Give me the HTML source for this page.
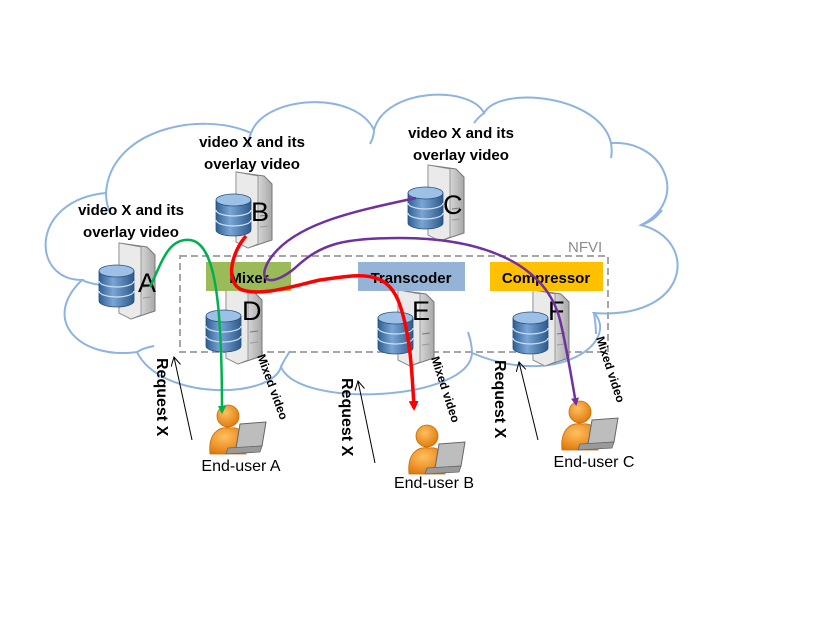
<!DOCTYPE html>
<html><head><meta charset="utf-8"><style>
html,body{margin:0;padding:0;background:#fff;}
svg{display:block;font-family:"Liberation Sans",sans-serif;}
</style></head><body>
<svg width="830" height="623" viewBox="0 0 830 623" xmlns="http://www.w3.org/2000/svg">
<defs>
<linearGradient id="tw" x1="0" x2="1"><stop offset="0" stop-color="#f4f4f4"/><stop offset="0.6" stop-color="#d6d6d6"/><stop offset="1" stop-color="#a8a8a8"/></linearGradient>
<linearGradient id="db" x1="0" x2="1"><stop offset="0" stop-color="#2e5f92"/><stop offset="0.4" stop-color="#7aa6d6"/><stop offset="1" stop-color="#2c5a8a"/></linearGradient>
<radialGradient id="og" cx="0.4" cy="0.35" r="0.7"><stop offset="0" stop-color="#ffc060"/><stop offset="1" stop-color="#e0780a"/></radialGradient>
<g id="srv">
<path d="M8,0 L36,4 L44,12 L44,68 L20,76 L8,70 Z" fill="url(#tw)" stroke="#777" stroke-width="1"/>
<path d="M8,0 L30,4 L30,72 L20,76 L8,70 Z" fill="#eaeaea" stroke="#888" stroke-width="0.8"/>
<line x1="32" y1="44" x2="40" y2="43" stroke="#777"/>
<line x1="32" y1="55" x2="40" y2="54" stroke="#999"/>
<path d="M-12,28 L-12,58 A17.5,6 0 0 0 23,58 L23,28 Z" fill="url(#db)" stroke="#2a4f7a" stroke-width="0.8"/>
<ellipse cx="5.5" cy="28" rx="17.5" ry="6" fill="#9cc0e6" stroke="#2a4f7a" stroke-width="0.8"/>
<path d="M-12,38 A17.5,6 0 0 0 23,38 M-12,48 A17.5,6 0 0 0 23,48" fill="none" stroke="#cfe0f2" stroke-width="1.2"/>
</g>
<g id="usr">
<path d="M-22,30 C-24,10 -14,2 -2,4 C10,2 16,12 14,30 Z" fill="url(#og)" stroke="#c86a00" stroke-width="0.8"/>
<circle cx="-4" cy="-8" r="11" fill="url(#og)" stroke="#c86a00" stroke-width="0.8"/>
<path d="M8,0 L34,-2 L30,22 L4,24 Z" fill="#bdbdbd" stroke="#666" stroke-width="1"/>
<path d="M-4,24 L30,22 L28,28 L-6,30 Z" fill="#9a9a9a" stroke="#666" stroke-width="0.8"/>
</g>
<marker id="ag" markerWidth="8" markerHeight="8" refX="6" refY="4" orient="auto" markerUnits="userSpaceOnUse"><path d="M0,0 L8,4 L0,8 Z" fill="#00b050"/></marker>
<marker id="ar" markerWidth="10" markerHeight="10" refX="7" refY="5" orient="auto" markerUnits="userSpaceOnUse"><path d="M0,0 L10,5 L0,10 Z" fill="#ff0000"/></marker>
<marker id="ap" markerWidth="8" markerHeight="8" refX="6" refY="4" orient="auto" markerUnits="userSpaceOnUse"><path d="M0,0 L8,4 L0,8 Z" fill="#7030a0"/></marker>
<marker id="ak" markerWidth="10" markerHeight="10" refX="9" refY="5" orient="auto" markerUnits="userSpaceOnUse"><path d="M0,0 L9,5 L0,10" fill="none" stroke="#000" stroke-width="1"/></marker>
</defs>

<!-- cloud -->
<path d="M106,193 C110,130 200,110 251,133 C265,95 355,90 374,130 C385,88 470,85 484,113 C500,85 600,95 611,143 C665,140 690,200 641,225 C700,240 690,320 594,313 C620,340 560,390 472,353 C470,400 300,410 281,367 C270,400 160,400 137,352 C80,360 40,320 82,280 C30,280 30,200 106,193 Z" fill="none" stroke="#8db3e2" stroke-width="2"/>
<path d="M106,193 C106,200 107,206 110,212 M251,133 C249,138 248,143 248,147 M374,130 C374,136 372,140 370,144 M484,113 C480,116 477,119 474,123 M611,143 C612,149 612,153 611,158 M641,225 C650,222 656,218 662,210 M594,313 C595,320 596,326 596,334 M472,353 C472,345 470,338 468,332 M281,367 C284,360 287,356 290,351 M137,352 C142,349 148,347 154,346 M82,280 C88,283 94,284 100,285" fill="none" stroke="#8db3e2" stroke-width="2"/>

<!-- NFVI -->
<rect x="180" y="256" width="428" height="96" fill="none" stroke="#a6a6a6" stroke-width="2" stroke-dasharray="7,4"/>
<text x="568" y="252" font-size="15" fill="#8c8c8c">NFVI</text>

<!-- servers -->
<use href="#srv" x="111" y="243"/>
<use href="#srv" x="228" y="172"/>
<use href="#srv" x="420" y="165"/>
<use href="#srv" x="218" y="288"/>
<use href="#srv" x="390" y="290"/>
<use href="#srv" x="525" y="290"/>
<g font-size="27" fill="#000">
<text x="138" y="292">A</text>
<text x="251" y="221">B</text>
<text x="443" y="214">C</text>
<text x="242" y="320">D</text>
<text x="412" y="320">E</text>
<text x="548" y="320">F</text>
</g>

<!-- function boxes -->
<rect x="206" y="262" width="85" height="29" fill="#9bbb59"/>
<rect x="358" y="262" width="107" height="29" fill="#95b3d7"/>
<rect x="490" y="262" width="113" height="29" fill="#ffc000"/>
<g font-size="15" font-weight="bold" text-anchor="middle">
<text x="249" y="283">Mixer</text>
<text x="411" y="283">Transcoder</text>
<text x="546" y="283">Compressor</text>
</g>

<!-- server labels -->
<g font-size="15" font-weight="bold" text-anchor="middle">
<text x="131" y="215">video X and its</text><text x="131" y="237">overlay video</text>
<text x="252" y="147">video X and its</text><text x="252" y="169">overlay video</text>
<text x="461" y="138">video X and its</text><text x="461" y="160">overlay video</text>
</g>

<!-- users -->
<use href="#usr" x="232" y="424"/>
<use href="#usr" x="431" y="444"/>
<use href="#usr" x="584" y="420"/>
<g font-size="16" text-anchor="middle">
<text x="241" y="471">End-user A</text>
<text x="434" y="488">End-user B</text>
<text x="594" y="467">End-user C</text>
</g>

<!-- requests -->
<g font-size="16" font-weight="bold">
<text transform="translate(157,358) rotate(90)">Request X</text>
<text transform="translate(342,378) rotate(90)">Request X</text>
<text transform="translate(495,360) rotate(90)">Request X</text>
</g>
<g stroke="#000" stroke-width="1" marker-end="url(#ak)">
<line x1="192" y1="440" x2="174" y2="357"/>
<line x1="375" y1="463" x2="358" y2="381"/>
<line x1="538" y1="440" x2="519" y2="362"/>
</g>
<g font-size="12" font-weight="bold">
<text transform="translate(257,356) rotate(70)">Mixed video</text>
<text transform="translate(431,358) rotate(72)">Mixed video</text>
<text transform="translate(596,338) rotate(72)">Mixed video</text>
</g>

<!-- flows -->
<path d="M150,287 C162,262 168,238 190,240 C215,243 222,300 222,412" fill="none" stroke="#00b050" stroke-width="2.5" marker-end="url(#ag)"/>
<path d="M416,198 C350,212 290,225 268,262 C256,285 275,285 295,268 C320,245 340,238 400,238 C480,238 545,262 560,320 C566,345 572,380 576,404" fill="none" stroke="#7030a0" stroke-width="2.5" marker-end="url(#ap)"/>
<path d="M246,236 C232,252 225,280 240,289 C260,298 300,284 320,280 C360,274 385,270 398,300 C410,330 412,370 414,408" fill="none" stroke="#ff0000" stroke-width="3.5" marker-end="url(#ar)"/>
</svg>
</body></html>
